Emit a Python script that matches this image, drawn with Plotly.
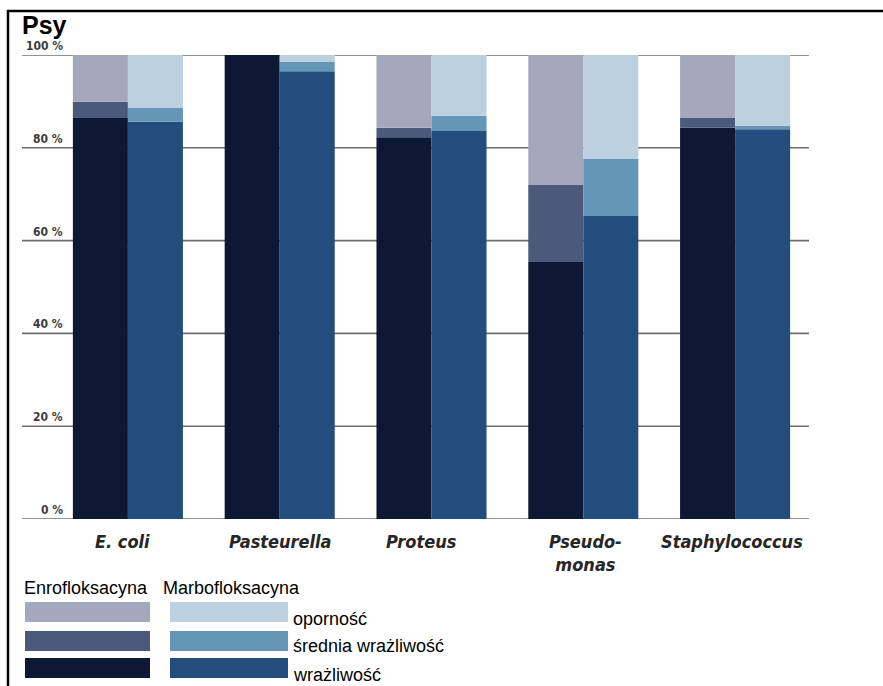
import plotly.graph_objects as go

# Bacteria (x categories) and per-antibiotic susceptibility shares, in %
bacteria = ["E. coli", "Pasteurella", "Proteus", "Pseudo-<br>monas", "Staphylococcus"]

enro_wrazliwosc = [86.4, 100.0, 82.3, 55.4, 84.3]
enro_srednia = [3.5, 0.0, 2.0, 16.6, 2.1]
enro_opornosc = [10.1, 0.0, 15.7, 28.0, 13.6]

marbo_wrazliwosc = [85.6, 96.5, 83.6, 65.3, 84.0]
marbo_srednia = [3.0, 2.0, 3.3, 12.3, 0.7]
marbo_opornosc = [11.4, 1.5, 13.1, 22.4, 15.3]

y_ticks = [0, 20, 40, 60, 80, 100]
y_tick_labels = ["0 %", "20 %", "40 %", "60 %", "80 %", "100 %"]

levels = ["wrażliwość", "średnia wrażliwość", "oporność"]
drugs = ["Enrofloksacyna", "Marbofloksacyna"]
enro_colors = ["#0d1834", "#4b5a7b", "#a5a8bc"]
marbo_colors = ["#224d7d", "#6496b8", "#bdd0e0"]

W, H = 883, 686
L, R, T, B = 52, 72, 55, 167
PW, PH = W - L - R, H - T - B


def px(x):
    return (x - L) / PW


def py(y):
    return (H - B - y) / PH


fig = go.Figure()

series = {
    "Enrofloksacyna": ([enro_wrazliwosc, enro_srednia, enro_opornosc], enro_colors),
    "Marbofloksacyna": ([marbo_wrazliwosc, marbo_srednia, marbo_opornosc], marbo_colors),
}

for drug in drugs:
    parts, colors = series[drug]
    base = [0.0] * len(bacteria)
    for level, vals, col in zip(levels, parts, colors):
        fig.add_trace(go.Bar(
            x=bacteria, y=vals, base=base[:], name=f"{drug} – {level}",
            offsetgroup=drug, marker=dict(color=col, line=dict(width=0)),
            showlegend=False,
        ))
        base = [b + v for b, v in zip(base, vals)]

shapes = []
# horizontal gridlines, running out to the left under the tick labels
for t in y_ticks:
    shapes.append(dict(type="line", xref="paper", yref="y", x0=px(22), x1=px(809),
                       y0=t, y1=t, line=dict(color="#6e6e6e", width=1.6), layer="below"))

# frame lines
shapes.append(dict(type="line", xref="paper", yref="paper", x0=px(7), x1=px(883),
                   y0=py(11), y1=py(11), line=dict(color="black", width=2.5)))
shapes.append(dict(type="line", xref="paper", yref="paper", x0=px(8), x1=px(8),
                   y0=py(10), y1=py(686), line=dict(color="black", width=2.5)))

# legend swatches
swatch_rows = [(602, 622), (631, 651), (658, 678)]
for (y0, y1), ci in zip(swatch_rows, [2, 1, 0]):
    shapes.append(dict(type="rect", xref="paper", yref="paper", x0=px(25), x1=px(150),
                       y0=py(y1), y1=py(y0), fillcolor=enro_colors[ci], line=dict(width=0)))
    shapes.append(dict(type="rect", xref="paper", yref="paper", x0=px(170), x1=px(288),
                       y0=py(y1), y1=py(y0), fillcolor=marbo_colors[ci], line=dict(width=0)))

annotations = []
tick_font = dict(family="Liberation Sans Narrow, DejaVu Sans Condensed, sans-serif",
                 size=12, weight="bold", color="#3c3c3c")
for t, lab in zip(y_ticks, y_tick_labels):
    annotations.append(dict(
        text=lab, xref="paper", yref="y", x=px(65), y=t, xanchor="right", yanchor="bottom",
        yshift=0, showarrow=False, font=tick_font,
    ))

# category names under the bar pairs
cat_font = dict(family="Liberation Sans Narrow, DejaVu Sans Condensed, sans-serif",
                size=18, weight="bold", style="italic", color="#262626")
cat_shift = [-5, 1, -10, 2, -3]
for name, dx in zip(bacteria, cat_shift):
    annotations.append(dict(
        text=name, xref="x", yref="paper", x=name, y=0, xanchor="center", yanchor="top",
        xshift=dx, yshift=-10, showarrow=False, font=cat_font,
    ))

annotations.append(dict(
    text="Psy", xref="paper", yref="paper", x=px(20), y=py(25), xanchor="left",
    yanchor="middle", showarrow=False,
    font=dict(family="Liberation Sans, Arial, sans-serif", size=25, weight="bold", color="black"),
))

legend_font = dict(family="Liberation Sans, Arial, sans-serif", size=18, color="black")
annotations.append(dict(text=drugs[0], xref="paper", yref="paper", x=px(22), y=py(588),
                        xanchor="left", yanchor="middle", showarrow=False, font=legend_font))
annotations.append(dict(text=drugs[1], xref="paper", yref="paper", x=px(161), y=py(588),
                        xanchor="left", yanchor="middle", showarrow=False, font=legend_font))
for lab, yc in zip(["oporność", "średnia wrażliwość", "wrażliwość"], [619, 646, 675]):
    annotations.append(dict(text=lab, xref="paper", yref="paper", x=px(291), y=py(yc),
                            xanchor="left", yanchor="middle", showarrow=False, font=legend_font))

fig.update_layout(
    width=W, height=H, autosize=False,
    margin=dict(l=L, r=R, t=T, b=B, pad=0),
    paper_bgcolor="white", plot_bgcolor="white",
    barmode="group", bargap=0.275, bargroupgap=0.0,
    shapes=shapes, annotations=annotations,
    xaxis=dict(range=[-0.5, 4.5], showgrid=False, zeroline=False, showline=False,
               ticks="", showticklabels=False),
    yaxis=dict(range=[0, 100], showgrid=False, zeroline=False, showline=False,
               showticklabels=False, ticks=""),
)

fig.write_html("out.html")
